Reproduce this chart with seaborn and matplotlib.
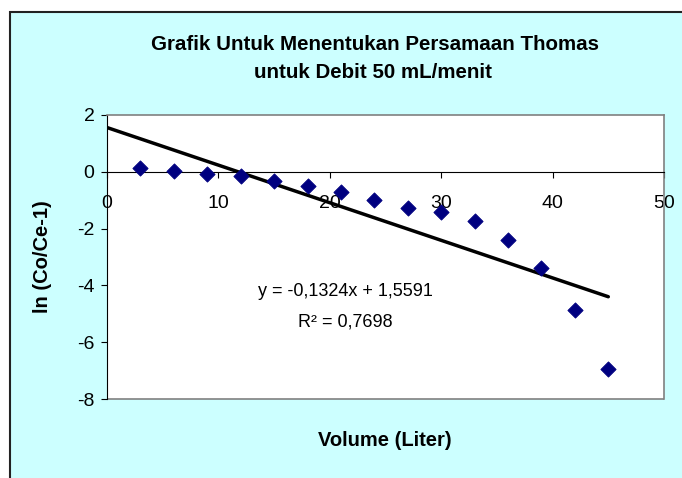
import numpy as np
import pandas as pd
import matplotlib
matplotlib.use("Agg")
import matplotlib.pyplot as plt
from matplotlib.patches import Rectangle
import seaborn as sns

# data
volume = [3, 6, 9, 12, 15, 18, 21, 24, 27, 30, 33, 36, 39, 42, 45]
ln_ratio = [0.14, 0.02, -0.06, -0.15, -0.33, -0.51, -0.71, -1.00,
            -1.26, -1.41, -1.74, -2.39, -3.39, -4.86, -6.94]
slope = -0.1324
intercept = 1.5591
r_squared = 0.7698
x_ticks = [0, 10, 20, 30, 40, 50]
y_ticks = [2, 0, -2, -4, -6, -8]

df = pd.DataFrame({"Volume": volume, "ln": ln_ratio})
trend_x = np.array([0, max(volume)])
trend = pd.DataFrame({"Volume": trend_x, "ln": slope * trend_x + intercept})

sns.set_theme(style="white")
plt.rcParams["font.family"] = ["Liberation Sans", "DejaVu Sans"]
plt.rcParams["text.color"] = "black"
plt.rcParams["xtick.color"] = "black"
plt.rcParams["ytick.color"] = "black"
plt.rcParams["axes.unicode_minus"] = False

fig = plt.figure(figsize=(6.82, 4.78), dpi=100)
fig.patch.set_facecolor("white")
# cyan chart area with dark frame (cut off at right and bottom)
fig.patches.append(Rectangle((10 / 682, -0.1), 1.2, 1 - 12 / 478 + 0.1,
                             transform=fig.transFigure, facecolor="#CCFFFF",
                             edgecolor="#222222", linewidth=1.5, zorder=-5))

ax = fig.add_axes([107 / 682, 1 - 399 / 478, 557 / 682, 284 / 478])
ax.set_zorder(1)
ax.set_facecolor("white")

sns.lineplot(data=trend, x="Volume", y="ln", color="black", linewidth=2.5, ax=ax)
sns.scatterplot(data=df, x="Volume", y="ln", marker="D", color="#000080",
                edgecolor="#000080", s=60, zorder=3, ax=ax)

ax.set_xlim(0, 50)
ax.set_ylim(-8, 2)
ax.set_xticks(x_ticks)
ax.set_yticks(y_ticks)
ax.set_xlabel("")
ax.set_ylabel("")

for s in ["top", "right"]:
    ax.spines[s].set_color("#808080")
    ax.spines[s].set_linewidth(1.2)
ax.spines["left"].set_color("black")
ax.spines["left"].set_linewidth(0.8)
ax.spines["bottom"].set_position(("data", 0))
ax.spines["bottom"].set_color("black")
ax.spines["bottom"].set_linewidth(0.8)
# bottom border of the plot area
ax.add_patch(Rectangle((0, 0), 1, 0, transform=ax.transAxes, fill=False,
                       edgecolor="#808080", linewidth=1.2, clip_on=False))

ax.tick_params(axis="both", direction="out", length=4, width=0.8,
               color="black", labelsize=14, left=True, bottom=True)
ax.tick_params(axis="x", pad=13)
ax.tick_params(axis="y", pad=5)

ax.text(21.4, -4.23, f"y = {slope:.4f}x + {intercept:.4f}".replace(".", ","),
        ha="center", va="center", fontsize=13)
ax.text(21.4, -5.3, f"R² = {r_squared:.4f}".replace(".", ","),
        ha="center", va="center", fontsize=13)

fig.text(375 / 682, 1 - 45 / 478, "Grafik Untuk Menentukan Persamaan Thomas",
         ha="center", va="center", fontsize=14.8, fontweight="bold")
fig.text(373 / 682, 1 - 73 / 478, "untuk Debit 50 mL/menit",
         ha="center", va="center", fontsize=14.8, fontweight="bold")
fig.text(385 / 682, 1 - 440 / 478, "Volume (Liter)",
         ha="center", va="center", fontsize=14.5, fontweight="bold")
fig.text(42 / 682, 1 - 257 / 478, "ln (Co/Ce-1)", rotation=90,
         ha="center", va="center", fontsize=14.5, fontweight="bold")

fig.savefig("out.png", dpi=100)
